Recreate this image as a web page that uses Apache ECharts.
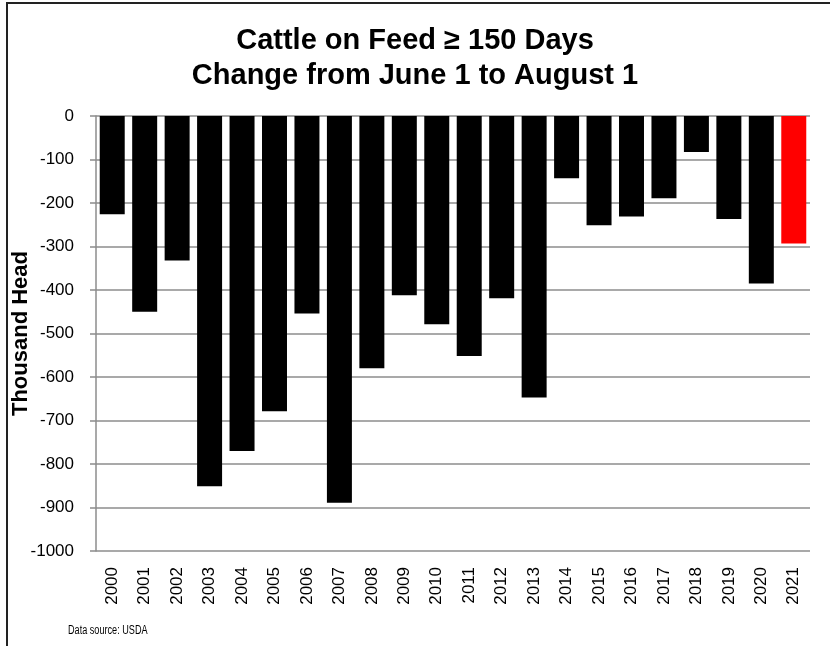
<!DOCTYPE html>
<html>
<head>
<meta charset="utf-8">
<script src="https://cdn.jsdelivr.net/npm/echarts@6/dist/echarts.min.js"></script>
<style>
  html, body { margin: 0; padding: 0; background: #fff; }
  #chart { width: 830px; height: 646px; }
</style>
</head>
<body>
<div id="chart"></div>
<script>
// Change in cattle on feed 150+ days, June 1 to August 1 (thousand head)
const years = ['2000','2001','2002','2003','2004','2005','2006','2007','2008','2009','2010',
               '2011','2012','2013','2014','2015','2016','2017','2018','2019','2020','2021'];
const changes = [-226, -450, -332, -851, -770, -679, -454, -889, -580, -412, -479,
                 -552, -419, -647, -143, -251, -231, -189, -83, -237, -385, -293];
const highlightYear = '2021';
const yTicks = { min: -1000, max: 0, interval: 100 };

const FONT = '"Liberation Sans", Arial, sans-serif';

const chart = echarts.init(document.getElementById('chart'));

chart.setOption({
  backgroundColor: '#fff',
  animation: false,
  textStyle: { fontFamily: FONT },
  title: {
    text: 'Cattle on Feed \u2265 150 Days\nChange from June 1 to August 1',
    left: 'center',
    top: 18,
    textStyle: {
      fontFamily: FONT,
      fontSize: 29,
      fontWeight: 'bold',
      color: '#000',
      lineHeight: 35
    }
  },
  grid: { left: 96, top: 116, right: 20, bottom: 95, containLabel: false, outerBoundsMode: 'none' },
  xAxis: {
    type: 'category',
    data: years,
    position: 'bottom',
    axisLine: { show: false, onZero: false },
    axisTick: { show: false },
    axisLabel: {
      rotate: 90,
      margin: 16,
      fontSize: 17,
      color: '#000',
      fontFamily: FONT,
      interval: 0
    }
  },
  yAxis: {
    type: 'value',
    min: yTicks.min,
    max: yTicks.max,
    interval: yTicks.interval,
    name: 'Thousand Head',
    nameLocation: 'middle',
    nameGap: 64,
    nameMoveOverlap: false,
    nameTextStyle: { fontSize: 22, fontWeight: 'bold', color: '#000', fontFamily: FONT },
    axisLine: { show: true, lineStyle: { color: '#8c8c8c', width: 1.5 } },
    axisTick: { show: true, inside: false, length: 6, lineStyle: { color: '#8c8c8c', width: 1.5 } },
    axisLabel: {
      fontSize: 17, color: '#000', margin: 22, fontFamily: FONT,
      formatter: (v) => String(v)
    },
    splitLine: { show: true, lineStyle: { color: '#8c8c8c', width: 1.5 } }
  },
  series: [{
    type: 'bar',
    data: changes.map((v, i) => ({
      value: v,
      itemStyle: { color: years[i] === highlightYear ? '#ff0000' : '#000000' }
    })),
    barCategoryGap: '23%'
  }],
  graphic: [
    {
      type: 'rect',
      shape: { x: 7, y: 3, width: 840, height: 660 },
      style: { fill: 'none', stroke: '#222', lineWidth: 2 },
      silent: true
    },
    {
      // condensed source note
      type: 'text',
      x: 68,
      y: 625,
      scaleX: 0.76,
      style: { text: 'Data source: USDA', fontSize: 12, fill: '#000', fontFamily: FONT }
    }
  ]
});
</script>
</body>
</html>
